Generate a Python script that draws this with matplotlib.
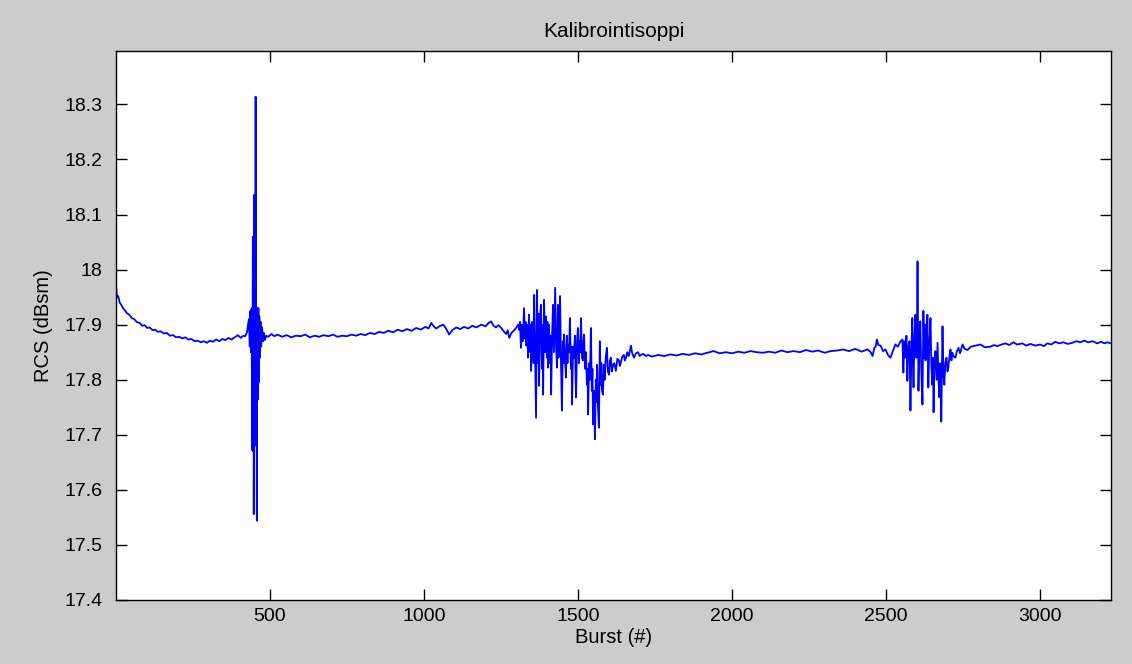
import numpy as np
import matplotlib.pyplot as plt
from matplotlib.ticker import FuncFormatter

##### DATA #####
# burst number / RCS (dBsm), piece by piece

# settling at the start
start_x = [1, 4, 8, 13, 18, 24, 30, 36, 44, 52, 60, 68, 78, 86, 94, 102, 110, 120,
           128, 136, 146, 156, 166, 176, 186, 196, 206, 216, 226, 236, 246, 256,
           266, 276, 286, 296, 306, 316, 326, 336, 346, 356, 366, 376, 386, 396,
           406, 414, 420, 426]
start_y = [17.970, 17.950, 17.952, 17.940, 17.936, 17.930, 17.926, 17.921, 17.918,
           17.912, 17.910, 17.905, 17.903, 17.898, 17.899, 17.894, 17.895, 17.890,
           17.891, 17.887, 17.888, 17.884, 17.885, 17.880, 17.881, 17.877, 17.878,
           17.875, 17.877, 17.873, 17.874, 17.870, 17.871, 17.868, 17.870, 17.867,
           17.871, 17.869, 17.873, 17.870, 17.874, 17.872, 17.876, 17.873, 17.877,
           17.881, 17.876, 17.880, 17.879, 17.886]

# big spike near burst 450
spike_x = [432, 435, 437, 439, 441, 443, 445, 446, 447, 448, 450, 451, 452, 453,
           454, 455, 456, 457, 458, 459, 460, 462, 463, 464, 466, 468, 470, 472,
           475, 478, 481, 484, 488]
spike_y = [17.910, 17.860, 17.925, 17.850, 17.930, 17.672, 18.060, 17.670, 18.050,
           17.556, 18.136, 17.680, 18.100, 17.800, 18.314, 17.850, 17.900, 17.760,
           17.544, 17.930, 17.930, 17.764, 17.930, 17.795, 17.915, 17.840, 17.905,
           17.860, 17.895, 17.870, 17.885, 17.872, 17.880]

# flat part up to the second burst
flat1_x = [495, 505, 515, 525, 540, 555, 570, 585, 600, 615, 630, 645, 660, 675,
           690, 705, 720, 735, 750, 765, 780, 795, 810, 825, 840, 855, 870, 885,
           900, 915, 930, 945, 960, 975, 990, 1005, 1015, 1024, 1032, 1040, 1050,
           1063, 1072, 1082, 1092, 1105, 1118, 1130, 1144, 1157, 1170, 1186, 1200,
           1210, 1218, 1226, 1234, 1242, 1251, 1259, 1267, 1272, 1277, 1284, 1290,
           1298, 1306, 1310]
flat1_y = [17.878, 17.883, 17.879, 17.882, 17.878, 17.881, 17.877, 17.880, 17.879,
           17.882, 17.877, 17.880, 17.878, 17.881, 17.879, 17.882, 17.878, 17.880,
           17.879, 17.882, 17.880, 17.883, 17.881, 17.885, 17.883, 17.887, 17.885,
           17.889, 17.886, 17.891, 17.888, 17.892, 17.889, 17.894, 17.891, 17.896,
           17.893, 17.903, 17.897, 17.893, 17.897, 17.900, 17.893, 17.882, 17.890,
           17.895, 17.892, 17.896, 17.893, 17.898, 17.895, 17.900, 17.897, 17.903,
           17.906, 17.898, 17.895, 17.899, 17.894, 17.888, 17.883, 17.890, 17.876,
           17.885, 17.888, 17.893, 17.900, 17.890]

# second burst (about 1310 - 1730)
burst2_x = [1312, 1315, 1318, 1321, 1325, 1328, 1330, 1332, 1335, 1338, 1341, 1344,
            1346, 1348, 1351, 1354, 1356, 1358, 1361, 1364, 1367, 1370, 1372, 1374,
            1377, 1380, 1383, 1385, 1387, 1390, 1393, 1396, 1399, 1401, 1403, 1406,
            1409, 1411, 1413, 1416, 1419, 1422, 1424, 1426, 1429, 1432, 1435, 1437,
            1439, 1442, 1445, 1448, 1451, 1453, 1455, 1458, 1461, 1464, 1466, 1468,
            1471, 1474, 1477, 1479, 1481, 1484, 1487, 1490, 1492, 1494, 1497, 1500,
            1503, 1505, 1507, 1510, 1513, 1516, 1518, 1520, 1523, 1526, 1529, 1531,
            1533, 1536, 1539, 1542, 1545, 1547, 1549, 1552, 1554, 1555, 1558, 1560,
            1562, 1565, 1568, 1571, 1574, 1576, 1578, 1581, 1584, 1587, 1590, 1594,
            1597, 1601, 1604, 1607, 1610, 1614, 1618, 1623, 1628, 1633, 1636, 1639,
            1644, 1649, 1652, 1656, 1660, 1665, 1672, 1676, 1682, 1688, 1695, 1700,
            1704, 1712, 1720, 1727]
burst2_y = [17.905, 17.858, 17.900, 17.870, 17.930, 17.875, 17.905, 17.862, 17.900,
            17.840, 17.918, 17.850, 17.900, 17.816, 17.905, 17.880, 17.830, 17.954,
            17.840, 17.731, 17.963, 17.830, 17.920, 17.789, 17.910, 17.936, 17.820,
            17.900, 17.773, 17.945, 17.850, 17.915, 17.840, 17.905, 17.822, 17.900,
            17.830, 17.880, 17.773, 17.880, 17.936, 17.850, 17.910, 17.967, 17.860,
            17.822, 17.936, 17.840, 17.870, 17.952, 17.830, 17.744, 17.870, 17.830,
            17.882, 17.840, 17.804, 17.880, 17.830, 17.864, 17.850, 17.912, 17.820,
            17.860, 17.755, 17.860, 17.840, 17.880, 17.810, 17.768, 17.870, 17.894,
            17.830, 17.870, 17.850, 17.912, 17.840, 17.835, 17.870, 17.882, 17.820,
            17.850, 17.791, 17.820, 17.737, 17.830, 17.800, 17.894, 17.780, 17.820,
            17.719, 17.780, 17.740, 17.692, 17.800, 17.760, 17.827, 17.750, 17.713,
            17.870, 17.790, 17.830, 17.780, 17.773, 17.827, 17.800, 17.840, 17.858,
            17.815, 17.809, 17.835, 17.840, 17.815, 17.827, 17.830, 17.816, 17.838,
            17.835, 17.825, 17.831, 17.842, 17.845, 17.835, 17.840, 17.850, 17.843,
            17.862, 17.848, 17.840, 17.848, 17.850, 17.843, 17.845, 17.847, 17.843,
            17.845]

# flat part up to the third burst
flat2_x = [1740, 1760, 1780, 1800, 1820, 1840, 1860, 1880, 1900, 1920, 1940, 1960,
           1980, 2000, 2020, 2040, 2060, 2080, 2100, 2120, 2140, 2160, 2180, 2200,
           2220, 2240, 2260, 2280, 2300, 2320, 2340, 2360, 2380, 2400, 2420, 2440,
           2450, 2456, 2462, 2466, 2470, 2475, 2482, 2490, 2498, 2506, 2514, 2522,
           2530, 2538, 2547, 2553]
flat2_y = [17.842, 17.845, 17.843, 17.846, 17.844, 17.847, 17.845, 17.848, 17.846,
           17.849, 17.852, 17.848, 17.850, 17.848, 17.851, 17.849, 17.852, 17.850,
           17.849, 17.851, 17.849, 17.853, 17.850, 17.852, 17.850, 17.854, 17.851,
           17.853, 17.849, 17.852, 17.853, 17.855, 17.852, 17.856, 17.851, 17.855,
           17.850, 17.843, 17.858, 17.860, 17.873, 17.863, 17.862, 17.852, 17.855,
           17.845, 17.840, 17.852, 17.864, 17.860, 17.870, 17.873]

# third burst (about 2555 - 2765)
burst3_x = [2556, 2559, 2562, 2566, 2569, 2572, 2576, 2579, 2582, 2585, 2587, 2589,
            2592, 2595, 2598, 2600, 2602, 2605, 2608, 2611, 2614, 2618, 2621, 2624,
            2626, 2628, 2631, 2634, 2637, 2640, 2644, 2647, 2650, 2652, 2654, 2657,
            2660, 2664, 2667, 2670, 2673, 2676, 2679, 2683, 2686, 2689, 2692, 2696,
            2699, 2702, 2706, 2709, 2712, 2715, 2720, 2725, 2730, 2735, 2740, 2748,
            2755, 2764]
burst3_y = [17.813, 17.870, 17.840, 17.880, 17.798, 17.860, 17.870, 17.744, 17.850,
            17.912, 17.830, 17.786, 17.880, 17.918, 17.840, 17.880, 18.015, 17.780,
            17.870, 17.906, 17.820, 17.755, 17.925, 17.840, 17.900, 17.835, 17.880,
            17.918, 17.786, 17.860, 17.912, 17.820, 17.791, 17.840, 17.741, 17.830,
            17.852, 17.800, 17.867, 17.800, 17.768, 17.830, 17.724, 17.897, 17.810,
            17.791, 17.830, 17.840, 17.815, 17.822, 17.845, 17.855, 17.835, 17.849,
            17.842, 17.840, 17.852, 17.858, 17.848, 17.864, 17.856, 17.854]

# flat tail
tail_x = [2775, 2790, 2806, 2820, 2838, 2850, 2861, 2875, 2887, 2900, 2913, 2925,
          2942, 2955, 2968, 2985, 3000, 3012, 3023, 3036, 3049, 3062, 3075, 3090,
          3104, 3118, 3130, 3143, 3156, 3170, 3185, 3198, 3208, 3218, 3230]
tail_y = [17.860, 17.862, 17.864, 17.859, 17.860, 17.863, 17.861, 17.864, 17.866,
          17.863, 17.868, 17.864, 17.866, 17.862, 17.865, 17.862, 17.864, 17.861,
          17.866, 17.864, 17.869, 17.866, 17.868, 17.865, 17.867, 17.870, 17.868,
          17.871, 17.868, 17.870, 17.866, 17.869, 17.866, 17.868, 17.866]

xticks = [500, 1000, 1500, 2000, 2500, 3000]
yticks = [17.4, 17.5, 17.6, 17.7, 17.8, 17.9, 18.0, 18.1, 18.2, 18.3]

bursts = start_x + spike_x + flat1_x + burst2_x + flat2_x + burst3_x + tail_x
rcs = start_y + spike_y + flat1_y + burst2_y + flat2_y + burst3_y + tail_y
assert len(bursts) == len(rcs)

##### PLOT #####
plt.rcParams['font.family'] = ['Liberation Sans', 'DejaVu Sans']

fig = plt.figure(figsize=(11.32, 6.64), dpi=100, facecolor='#cccccc')
ax = fig.add_axes([0.1025, 0.0964, 0.879, 0.8268])
ax.plot(bursts, rcs, color='#0000ff', lw=1.3)

ax.set_xlim(1, 3230)
ax.set_ylim(17.4, 18.397)
ax.set_xticks(xticks)
ax.set_yticks(yticks)
ax.yaxis.set_major_formatter(FuncFormatter(lambda v, p: f"{v:g}"))
ax.tick_params(direction='in', length=8, width=1, labelsize=14,
               top=True, right=True, colors='black')
ax.tick_params(axis='y', pad=10)
ax.tick_params(axis='x', pad=6)
for s in ax.spines.values():
    s.set_linewidth(1)

ax.set_title('Kalibrointisoppi', fontsize=15, pad=10)
ax.set_xlabel('Burst (#)', fontsize=14.5, labelpad=2)
ax.set_ylabel('RCS (dBsm)', fontsize=14.5, labelpad=8)

fig.savefig('out.png', dpi=100, facecolor=fig.get_facecolor())
